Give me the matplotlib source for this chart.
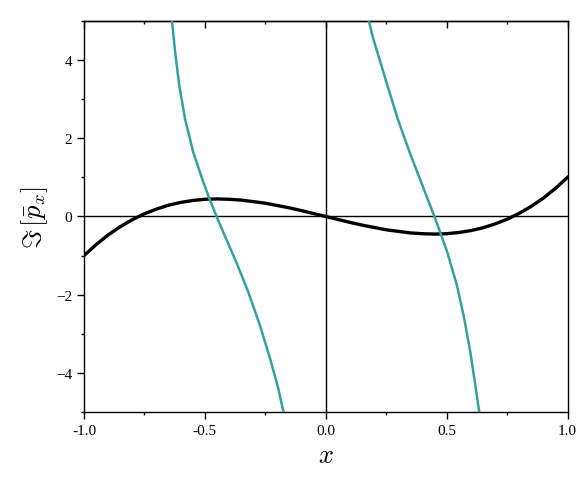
import numpy as np
import matplotlib
matplotlib.use("Agg")
import matplotlib.pyplot as plt
from matplotlib.ticker import MultipleLocator, FormatStrFormatter

plt.rcParams['font.family'] = ['Liberation Serif', 'DejaVu Serif']
plt.rcParams['mathtext.fontset'] = 'cm'

# black curve
x_black = [-1.0, -0.95, -0.9, -0.85, -0.8, -0.75, -0.7, -0.65, -0.6, -0.55, -0.5,
           -0.45, -0.4, -0.35, -0.3, -0.25, -0.2, -0.15, -0.1, -0.05, 0.0,
           0.05, 0.1, 0.15, 0.2, 0.25, 0.3, 0.35, 0.4, 0.45, 0.5,
           0.55, 0.6, 0.65, 0.7, 0.75, 0.8, 0.85, 0.9, 0.95, 1.0]
y_black = [-1.00, -0.72, -0.47, -0.26, -0.08, 0.07, 0.19, 0.29, 0.36, 0.41, 0.44,
           0.45, 0.44, 0.42, 0.38, 0.34, 0.28, 0.22, 0.15, 0.075, 0.0,
           -0.075, -0.15, -0.22, -0.28, -0.34, -0.38, -0.42, -0.44, -0.45, -0.44,
           -0.41, -0.36, -0.29, -0.19, -0.07, 0.08, 0.26, 0.47, 0.72, 1.00]

# teal branches
x_left = [-0.637, -0.623, -0.606, -0.582, -0.548, -0.506, -0.481, -0.449,
          -0.418, -0.370, -0.320, -0.272, -0.230, -0.196, -0.173]
y_left = [5.05, 4.20, 3.35, 2.49, 1.64, 0.87, 0.45, -0.04,
          -0.49, -1.17, -1.94, -2.79, -3.64, -4.41, -5.05]

x_right = [0.176, 0.197, 0.255, 0.298, 0.347, 0.400, 0.452,
           0.503, 0.543, 0.573, 0.598, 0.619, 0.636]
y_right = [5.05, 4.54, 3.35, 2.49, 1.64, 0.79, -0.04,
           -0.92, -1.77, -2.62, -3.47, -4.33, -5.05]

fig = plt.figure(figsize=(5.81, 4.85), dpi=100)
ax = fig.add_axes([0.1446, 0.1485, 0.8322, 0.8061])

ax.axhline(0, color='black', lw=1.0, zorder=1)
ax.axvline(0, color='black', lw=1.0, zorder=1)

ax.plot(x_black, y_black, color='black', lw=2.4, zorder=2)
ax.plot(x_left, y_left, color='#35a0a0', lw=1.8, zorder=3)
ax.plot(x_right, y_right, color='#35a0a0', lw=1.8, zorder=3)

ax.set_xlim(-1, 1)
ax.set_ylim(-5, 5)
ax.xaxis.set_major_locator(MultipleLocator(0.5))
ax.xaxis.set_minor_locator(MultipleLocator(0.25))
ax.xaxis.set_major_formatter(FormatStrFormatter('%.1f'))
ax.yaxis.set_major_locator(MultipleLocator(2))
ax.yaxis.set_minor_locator(MultipleLocator(1))

ax.tick_params(which='both', direction='out', width=1.0, labelsize=11, top=False, right=False)
ax.tick_params(which='major', length=5)
ax.tick_params(which='minor', length=2.5)

# top axis has inward ticks, no labels
sec = ax.secondary_xaxis('top')
sec.xaxis.set_major_locator(MultipleLocator(0.5))
sec.xaxis.set_minor_locator(MultipleLocator(0.25))
sec.tick_params(which='both', direction='in', width=1.0, labeltop=False)
sec.tick_params(which='major', length=5)
sec.tick_params(which='minor', length=2.5)
sec.spines['top'].set_linewidth(1.0)

for s in ax.spines.values():
    s.set_linewidth(1.0)

ax.set_xlabel(r'$x$', fontsize=19, labelpad=6)
ax.set_ylabel(r'$\Im\,[\bar{p}_x]$', fontsize=19, labelpad=4)

fig.savefig('out.png', dpi=100)
